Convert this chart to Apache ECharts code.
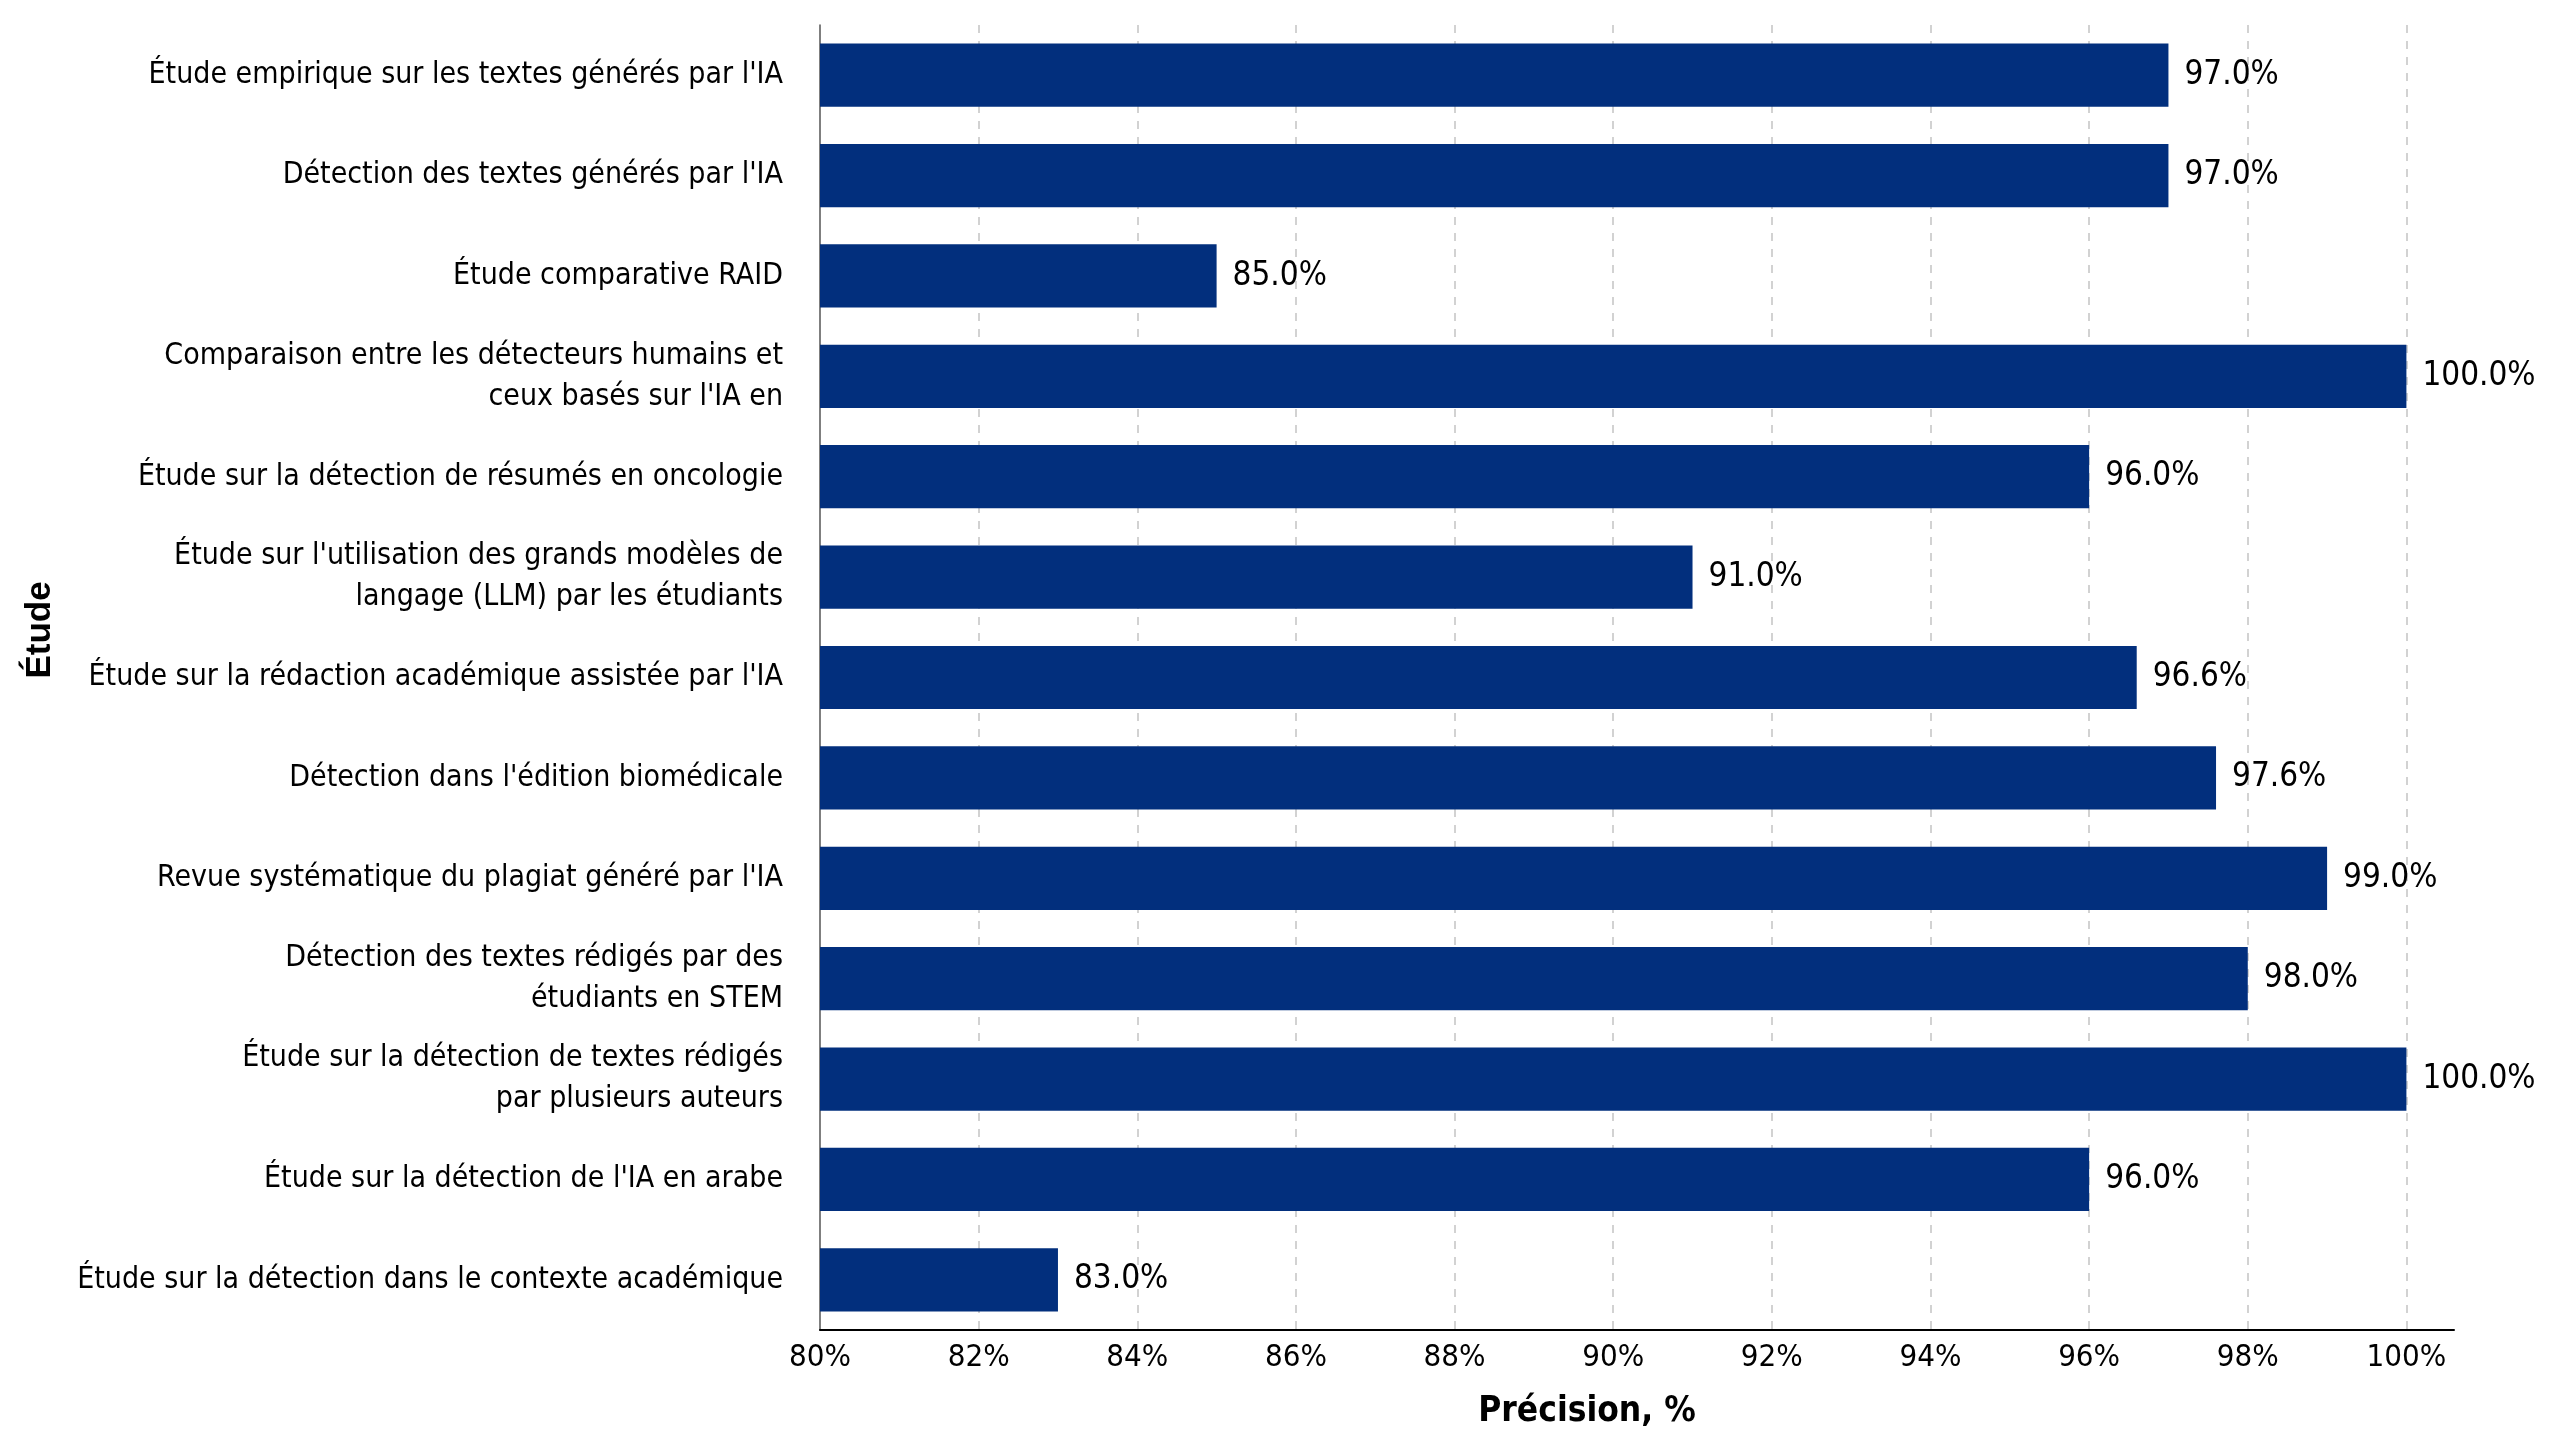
<!DOCTYPE html>
<html>
<head>
<meta charset="utf-8">
<script src="https://cdn.jsdelivr.net/npm/echarts@6/dist/echarts.min.js"></script>
<style>
    html, body { margin: 0; padding: 0; background: #fff; }
    #chart { width: 2560px; height: 1440px; }
</style>
</head>
<body>
<div id="chart"></div>
<script>
    // études, de haut en bas
    const studies = [
        "Étude empirique sur les textes générés par l'IA",
        "Détection des textes générés par l'IA",
        "Étude comparative RAID",
        "Comparaison entre les détecteurs humains et\nceux basés sur l'IA en",
        "Étude sur la détection de résumés en oncologie",
        "Étude sur l'utilisation des grands modèles de\nlangage (LLM) par les étudiants",
        "Étude sur la rédaction académique assistée par l'IA",
        "Détection dans l'édition biomédicale",
        "Revue systématique du plagiat généré par l'IA",
        "Détection des textes rédigés par des\nétudiants en STEM",
        "Étude sur la détection de textes rédigés\npar plusieurs auteurs",
        "Étude sur la détection de l'IA en arabe",
        "Étude sur la détection dans le contexte académique"
    ]
    const precision = [97.0, 97.0, 85.0, 100.0, 96.0, 91.0, 96.6, 97.6, 99.0, 98.0, 100.0, 96.0, 83.0]

    const font = "'Liberation Sans Narrow', 'Arial Narrow', 'DejaVu Sans Condensed', sans-serif"

    let chart = echarts.init(document.getElementById('chart'))
    let options = {
        animation: false,
        textStyle: { fontFamily: font },
        grid: {
            left: 820,
            right: 106,
            top: 25,
            bottom: 110,
            containLabel: false,
            outerBoundsMode: 'none'
        },
        graphic: [
            {
                type: 'text',
                x: 40,
                y: 630,
                rotation: Math.PI / 2,
                style: {
                    text: 'Étude',
                    fontFamily: "'Liberation Sans', Arial, sans-serif",
                    fontWeight: 'bold',
                    fontSize: 35,
                    fill: '#000',
                    align: 'center',
                    verticalAlign: 'middle',
                    textAlign: 'center',
                    textVerticalAlign: 'middle'
                }
            }
        ],
        xAxis: {
            type: 'value',
            min: 80,
            max: 100.6,
            interval: 2,
            name: 'Précision, %',
            nameLocation: 'middle',
            nameGap: 64,
            nameTextStyle: {
                fontFamily: font,
                fontWeight: 'bold',
                fontSize: 35,
                color: '#000',
                padding: [0, 100, 0, 0]
            },
            axisLine: { show: true, lineStyle: { color: '#000', width: 2 } },
            axisTick: { show: false },
            axisLabel: {
                fontSize: 31,
                color: '#000',
                margin: 12,
                showMaxLabel: false,
                formatter: (v) => Number.isInteger(v) ? v + '%' : ''
            },
            splitLine: {
                show: true,
                showMinLine: false,
                showMaxLine: false,
                lineStyle: { color: '#c4c4c4', type: [8, 8], width: 1.5 }
            }
        },
        yAxis: {
            type: 'category',
            data: studies,
            inverse: true,
            axisLine: { show: true, lineStyle: { color: '#555', width: 1.5 } },
            axisTick: { show: false },
            axisLabel: {
                fontSize: 30,
                color: '#000',
                margin: 37,
                lineHeight: 41,
                align: 'right'
            },
            splitLine: { show: false }
        },
        series: [
            {
                name: 'Précision',
                type: 'bar',
                data: precision,
                barCategoryGap: '37%',
                itemStyle: { color: '#022f7d' },
                label: {
                    show: true,
                    position: 'right',
                    distance: 16,
                    fontSize: 33,
                    color: '#000',
                    fontFamily: font,
                    formatter: (p) => p.value.toFixed(1) + '%'
                }
            }
        ]
    }
    chart.setOption(options)
</script>
</body>
</html>
